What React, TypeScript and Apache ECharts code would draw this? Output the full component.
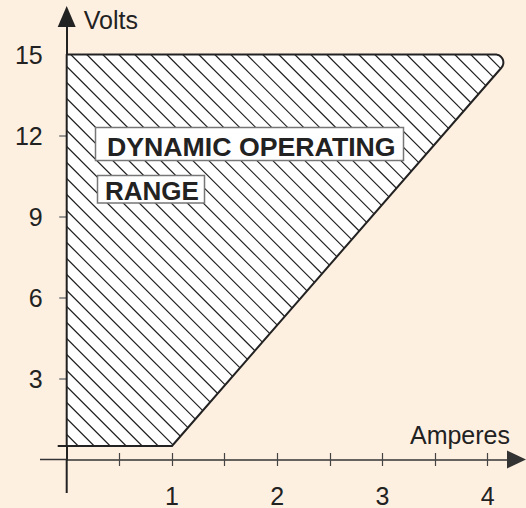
import React, { useEffect, useRef } from "react";
import * as echarts from "echarts";

// ---- data ----
const xTickValues = [0.5, 1, 1.5, 2, 2.5, 3, 3.5, 4];
const xLabelValues = [1, 2, 3, 4];
const yTickValues = [3, 6, 9, 12];
const yLabelValues = [3, 6, 9, 12, 15];
const regionAmps = [0, 0, 4.24, 1];
const regionVolts = [0.5, 15, 15, 0.5];
const xName = "Amperes";
const yName = "Volts";
const annotationLines = ["DYNAMIC OPERATING", "RANGE"];

// ---- layout / style ----
const W = 526;
const H = 508;
const ORIGIN_X = 66.7;
const ORIGIN_Y = 459.5;
const GRID_RIGHT = 9.5;
const GRID_TOP = 16.5;
const PX_PER_AMP = 105.25;
const PX_PER_VOLT = 27;
const X_MAX = (W - GRID_RIGHT - ORIGIN_X) / PX_PER_AMP;
const Y_MAX = (ORIGIN_Y - GRID_TOP) / PX_PER_VOLT;
const X_AXIS_LEFT_EXT = 26.7;
const Y_AXIS_DOWN_EXT = 33.5;
const FONT = '"Liberation Sans", Arial, Helvetica, sans-serif';
const BG = "#FEF0E1";
const INK = "#222";
const HATCH = 16;
const HATCH_PHASE = 4;
const CORNER_R = 8;

function roundCorner(P: number[], A: number[], B: number[], r: number): number[][] {
  const ua = [A[0] - P[0], A[1] - P[1]];
  const ub = [B[0] - P[0], B[1] - P[1]];
  const la = Math.hypot(ua[0], ua[1]);
  const lb = Math.hypot(ub[0], ub[1]);
  ua[0] /= la; ua[1] /= la;
  ub[0] /= lb; ub[1] /= lb;
  const theta = Math.acos(ua[0] * ub[0] + ua[1] * ub[1]);
  const d = r / Math.tan(theta / 2);
  const T1 = [P[0] + ua[0] * d, P[1] + ua[1] * d];
  const T2 = [P[0] + ub[0] * d, P[1] + ub[1] * d];
  const bis = [ua[0] + ub[0], ua[1] + ub[1]];
  const lbis = Math.hypot(bis[0], bis[1]);
  const cd = r / Math.sin(theta / 2);
  const C = [P[0] + (bis[0] / lbis) * cd, P[1] + (bis[1] / lbis) * cd];
  const a1 = Math.atan2(T1[1] - C[1], T1[0] - C[0]);
  const a2 = Math.atan2(T2[1] - C[1], T2[0] - C[0]);
  let diff = a2 - a1;
  while (diff > Math.PI) diff -= 2 * Math.PI;
  while (diff < -Math.PI) diff += 2 * Math.PI;
  const out: number[][] = [];
  const N = 14;
  for (let i = 0; i <= N; i++) {
    const a = a1 + (diff * i) / N;
    out.push([C[0] + r * Math.cos(a), C[1] + r * Math.sin(a)]);
  }
  return out;
}

const renderItem = (params: any, api: any) => {
  const pts: number[][] = regionAmps.map((a, i) => api.coord([a, regionVolts[i]]));
  const poly: number[][] = [];
  pts.forEach((p, i) => {
    if (i === 2) {
      roundCorner(p, pts[1], pts[3], CORNER_R).forEach((q) => poly.push(q));
    } else {
      poly.push(p);
    }
  });
  const cx = poly.reduce((s, p) => s + p[0], 0) / poly.length;
  const cy = poly.reduce((s, p) => s + p[1], 0) / poly.length;
  const edges = poly.map((E0, i) => {
    const E1 = poly[(i + 1) % poly.length];
    let n = [-(E1[1] - E0[1]), E1[0] - E0[0]];
    if (n[0] * (cx - E0[0]) + n[1] * (cy - E0[1]) < 0) n = [-n[0], -n[1]];
    return { E0, n };
  });
  const xs = poly.map((p) => p[0]);
  const ys = poly.map((p) => p[1]);
  const cMin = Math.min(...xs) - Math.max(...ys);
  const cMax = Math.max(...xs) - Math.min(...ys);
  const c0 = pts[1][0] - pts[1][1] + HATCH_PHASE;
  const start = c0 + Math.floor((cMin - c0) / HATCH) * HATCH;
  const hatch: any[] = [];
  for (let c = start; c <= cMax; c += HATCH) {
    let tIn = -Infinity;
    let tOut = Infinity;
    let ok = true;
    for (const { E0, n } of edges) {
      const num = n[0] * (c - E0[0]) + n[1] * (0 - E0[1]);
      const den = n[0] + n[1];
      if (Math.abs(den) < 1e-9) {
        if (num < 0) ok = false;
      } else if (den > 0) {
        tIn = Math.max(tIn, -num / den);
      } else {
        tOut = Math.min(tOut, -num / den);
      }
    }
    if (ok && tOut > tIn) {
      hatch.push({
        type: "line",
        shape: { x1: c + tIn, y1: tIn, x2: c + tOut, y2: tOut },
        style: { stroke: "#1e1e1e", lineWidth: 1.15 },
      });
    }
  }
  const bl = pts[0];
  const o = api.coord([0, 0]);
  return {
    type: "group",
    children: [
      // axis line extensions beyond the origin
      {
        type: "line",
        shape: { x1: o[0] - X_AXIS_LEFT_EXT, y1: o[1], x2: o[0], y2: o[1] },
        style: { stroke: "#333", lineWidth: 1.5 },
      },
      {
        type: "line",
        shape: { x1: o[0], y1: o[1], x2: o[0], y2: o[1] + Y_AXIS_DOWN_EXT },
        style: { stroke: INK, lineWidth: 2 },
      },
      { type: "polygon", shape: { points: poly }, style: { fill: "#ffffff", stroke: "none" } },
      ...hatch,
      {
        type: "polygon",
        shape: { points: poly },
        style: { fill: "none", stroke: INK, lineWidth: 2, lineJoin: "round" },
      },
      {
        type: "line",
        shape: { x1: bl[0] - 9, y1: bl[1], x2: bl[0], y2: bl[1] },
        style: { stroke: INK, lineWidth: 2 },
      },
    ],
  };
};

const labelStyle = { color: INK, fontSize: 25, fontFamily: FONT };

export default function App() {
  const ref = useRef<HTMLDivElement>(null);
  useEffect(() => {
    if (!ref.current) return;
    const chart = echarts.init(ref.current, undefined, { renderer: "svg" });
    const option: any = {
      animation: false,
      backgroundColor: BG,
      grid: {
        left: ORIGIN_X,
        right: GRID_RIGHT,
        top: GRID_TOP,
        bottom: H - ORIGIN_Y,
        containLabel: false,
        outerBoundsMode: "none",
      },
      xAxis: [
        {
          type: "value",
          min: 0,
          max: X_MAX,
          position: "bottom",
          name: xName,
          nameLocation: "end",
          nameGap: -6.5,
          nameTextStyle: {
            ...labelStyle,
            align: "right",
            verticalAlign: "bottom",
            lineHeight: 50,
          },
          axisLine: {
            show: true,
            onZero: false,
            symbol: ["none", "triangle"],
            symbolSize: [18, 19],
            lineStyle: { color: "#333", width: 1.5 },
          },
          axisTick: {
            show: true,
            inside: false,
            length: 6.5,
            customValues: xTickValues,
            lineStyle: { color: "#444", width: 1.2 },
          },
          axisLabel: {
            ...labelStyle,
            lineHeight: 24,
            margin: 24,
            customValues: xLabelValues,
          },
          splitLine: { show: false },
        },
        {
          type: "value",
          min: 0,
          max: X_MAX,
          position: "bottom",
          axisLine: { show: false, onZero: false },
          axisTick: {
            show: true,
            inside: true,
            length: 6.5,
            customValues: xTickValues,
            lineStyle: { color: "#444", width: 1.2 },
          },
          axisLabel: { show: false },
          splitLine: { show: false },
        },
      ],
      yAxis: {
        type: "value",
        min: 0,
        max: Y_MAX,
        name: yName,
        nameLocation: "end",
        nameGap: -3.5,
        nameTextStyle: {
          ...labelStyle,
          align: "left",
          verticalAlign: "middle",
          padding: [0, 0, 0, 17],
        },
        axisLine: {
          show: true,
          onZero: false,
          symbol: ["none", "triangle"],
          symbolSize: [18, 21],
          lineStyle: { color: INK, width: 2 },
        },
        axisTick: {
          show: true,
          inside: false,
          length: 7.5,
          customValues: yTickValues,
          lineStyle: { color: "#777", width: 1.5 },
        },
        axisLabel: { ...labelStyle, margin: 24, customValues: yLabelValues },
        splitLine: { show: false },
      },
      series: [
        {
          type: "custom",
          xAxisIndex: 0,
          yAxisIndex: 0,
          clip: false,
          data: [0],
          renderItem,
          z: 3,
        },
      ],
      graphic: [
        {
          type: "rect",
          z: 100,
          shape: { x: 95.5, y: 127.5, width: 308, height: 33 },
          style: { fill: "#ffffff", stroke: "#777", lineWidth: 1.5 },
        },
        {
          type: "text",
          z: 101,
          x: 107,
          y: 146.5,
          style: {
            text: annotationLines[0],
            font: `bold 26.7px ${FONT}`,
            fill: INK,
            verticalAlign: "middle",
            align: "left",
          },
        },
        {
          type: "rect",
          z: 100,
          shape: { x: 97.5, y: 175.5, width: 107, height: 27.5 },
          style: { fill: "#ffffff", stroke: "#777", lineWidth: 1.5 },
        },
        {
          type: "text",
          z: 101,
          x: 105,
          y: 190.5,
          style: {
            text: annotationLines[1],
            font: `bold 26px ${FONT}`,
            fill: INK,
            verticalAlign: "middle",
            align: "left",
          },
        },
      ],
    };
    chart.setOption(option);
    return () => chart.dispose();
  }, []);
  return (
    <div
      ref={ref}
      style={{ position: "fixed", left: 0, top: 0, width: W, height: H, background: BG }}
    />
  );
}
